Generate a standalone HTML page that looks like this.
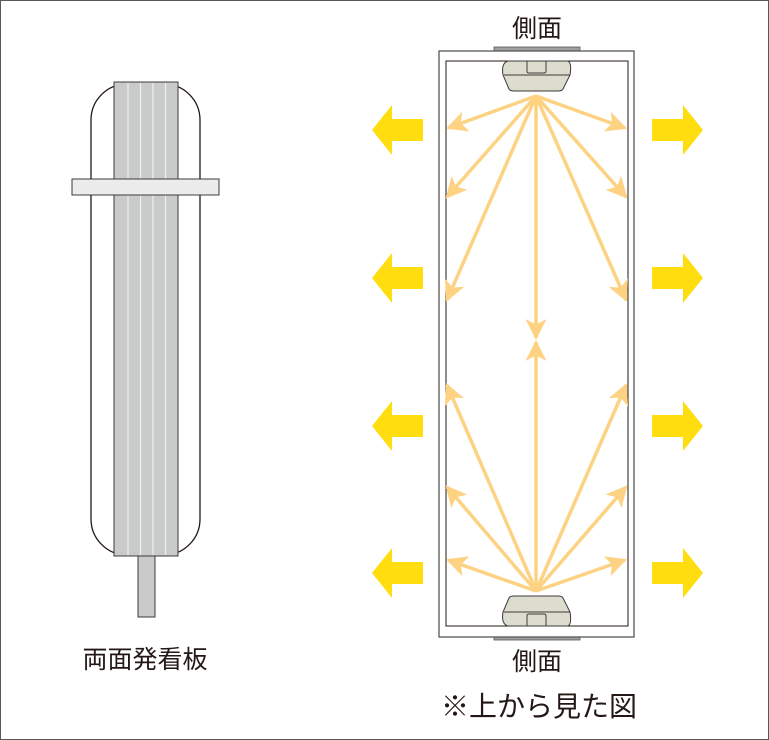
<!DOCTYPE html>
<html><head><meta charset="utf-8"><style>
body{margin:0;background:#fff}
svg{display:block}
text{font-family:"Liberation Sans","Noto Sans CJK JP",sans-serif;fill:#231815}
</style></head><body>
<svg width="769" height="740" viewBox="0 0 769 740" xmlns="http://www.w3.org/2000/svg">
<rect x="0.5" y="0.5" width="768" height="739" fill="#fff" stroke="#595757"/>
<!-- left sign -->
<rect x="91" y="84" width="109" height="471" rx="36" ry="36" fill="#fff" stroke="#231815" stroke-width="1.3"/>
<rect x="114" y="82" width="64" height="474" fill="#c9caca" stroke="#3e3a39" stroke-width="1"/>
<g stroke="#f0f0f0" stroke-width="1.2">
<line x1="128" y1="83" x2="128" y2="555"/><line x1="140.5" y1="83" x2="140.5" y2="555"/>
<line x1="153" y1="83" x2="153" y2="555"/><line x1="165.5" y1="83" x2="165.5" y2="555"/>
</g>
<rect x="72" y="179" width="147" height="16" fill="#ececec" stroke="#3e3a39"/>
<rect x="138" y="556" width="17" height="61" fill="#c9caca" stroke="#3e3a39"/>
<text x="145" y="668" font-size="25" text-anchor="middle">両面発看板</text>
<!-- right diagram -->
<text x="537" y="37" font-size="25" text-anchor="middle">側面</text>
<text x="537" y="670" font-size="25" text-anchor="middle">側面</text>
<text x="539" y="716" font-size="28" text-anchor="middle">※上から見た図</text>
<rect x="494" y="47" width="86" height="4" fill="#9fa0a0" stroke="#595757" stroke-width="0.8"/>
<rect x="494" y="636" width="86" height="4" fill="#9fa0a0" stroke="#595757" stroke-width="0.8"/>
<rect x="439" y="51" width="195" height="586" fill="#fff" stroke="#595757" stroke-width="1.3"/>
<rect x="446" y="61" width="182" height="565" fill="#fff" stroke="#231815" stroke-width="1"/>
<!-- lamps -->
<g fill="#dcdccf" stroke="#3e3a39" stroke-width="1">
<path d="M508 61 H568 Q572 63 570 75 L563 89 Q562 91 558 91 H514 Q510 91 509 89 L503 75 Q501 63 508 61Z"/>
<line x1="504" y1="75" x2="570" y2="75"/>
<path d="M527 61 V71 Q527 73 529 73 H544 Q546 73 546 71 V61" fill="none"/>
<path d="M508 626 H568 Q572 624 570 612 L563 598 Q562 596 558 596 H514 Q510 596 509 598 L503 612 Q501 624 508 626Z"/>
<line x1="504" y1="612" x2="570" y2="612"/>
<path d="M527 626 V616 Q527 614 529 614 H544 Q546 614 546 616 V626" fill="none"/>
</g>
<!-- light rays -->
<defs><marker id="a" viewBox="0 0 10 10" refX="9" refY="5" markerWidth="6" markerHeight="6" markerUnits="strokeWidth" orient="auto"><path d="M0 0 L10 5 L0 10 L2.5 5Z" fill="#fdd282"/></marker></defs>
<g stroke="#fdd282" stroke-width="3.5" marker-end="url(#a)" fill="none">
<line x1="536" y1="96" x2="448" y2="128"/><line x1="536" y1="96" x2="447" y2="197"/>
<line x1="536" y1="96" x2="447" y2="300"/><line x1="536" y1="96" x2="536" y2="338"/>
<line x1="536" y1="96" x2="626" y2="300"/><line x1="536" y1="96" x2="626" y2="197"/>
<line x1="536" y1="96" x2="625" y2="128"/>
<line x1="536" y1="591" x2="448" y2="560"/><line x1="536" y1="591" x2="447" y2="487"/>
<line x1="536" y1="591" x2="447" y2="385"/><line x1="536" y1="591" x2="536" y2="342"/>
<line x1="536" y1="591" x2="626" y2="385"/><line x1="536" y1="591" x2="626" y2="487"/>
<line x1="536" y1="591" x2="625" y2="560"/>
</g>
<!-- yellow arrows -->
<g fill="#ffdd0f">
<path id="L" d="M372 130 L392 105 V119 H423 V141 H392 V155Z"/>
<use href="#L" y="148"/><use href="#L" y="296"/><use href="#L" y="443"/>
<path id="R" d="M703 130 L683 105 V119 H652 V141 H683 V155Z"/>
<use href="#R" y="148"/><use href="#R" y="296"/><use href="#R" y="443"/>
</g>
</svg>
</body></html>
